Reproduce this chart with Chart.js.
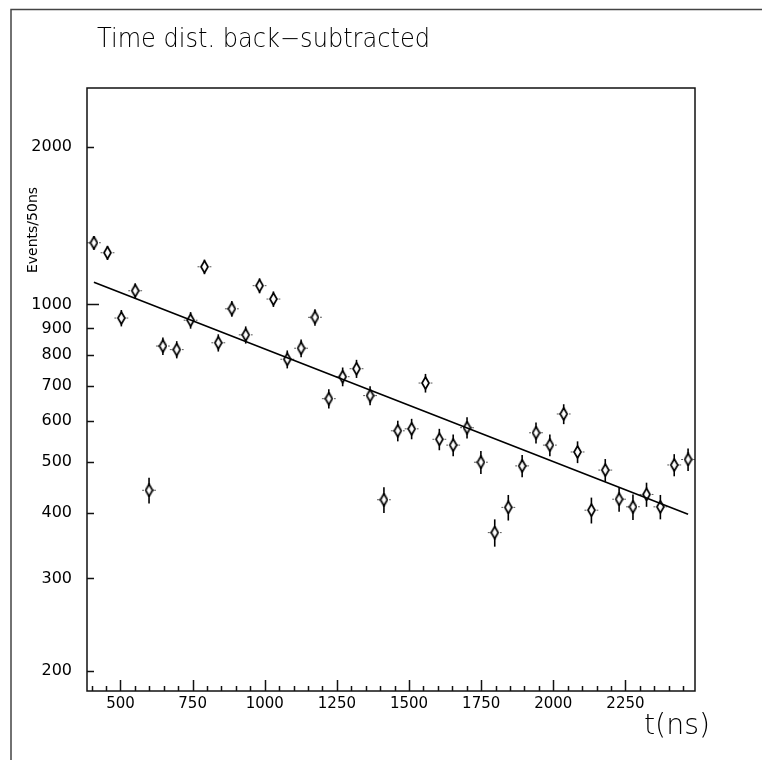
<!DOCTYPE html>
<html>
<head>
<meta charset="utf-8">
<script src="https://cdn.jsdelivr.net/npm/chart.js@4.4.0/dist/chart.umd.min.js"></script>
<style>
html, body { margin: 0; padding: 0; background: #fff; }
</style>
</head>
<body>
<canvas id="timeChart" width="762" height="760"></canvas>
<script>
// Bin centres (ns) and background-subtracted counts
const binTimes = [408, 455, 503, 551, 599, 647, 695, 743, 791, 839, 886, 934, 982, 1030, 1078,
    1126, 1174, 1222, 1270, 1318, 1365, 1413, 1461, 1509, 1557, 1605, 1653, 1701, 1749, 1797,
    1844, 1892, 1940, 1988, 2036, 2084, 2132, 2180, 2228, 2276, 2323, 2371, 2419, 2467];
const eventCounts = [1311, 1255, 942, 1062, 442, 833, 820, 933, 1180, 845, 981, 875, 1086, 1024, 786,
    825, 945, 661, 728, 754, 670, 424, 574, 579, 708, 553, 539, 582, 500, 367,
    410, 492, 569, 539, 618, 523, 405, 483, 425, 411, 434, 411, 494, 506];
const countErrors = [40, 39, 34, 36, 25, 32, 31, 34, 38, 32, 34, 33, 36, 35, 31,
    32, 34, 28, 30, 30, 28, 24, 26, 26, 29, 26, 26, 27, 25, 22,
    23, 24, 26, 26, 27, 25, 23, 24, 23, 23, 23, 22, 24, 25];

// Exponential fit (straight on the log axis), end points
const fitTimes = [408, 2467];
const fitCounts = [1102, 398];

const yTickValues = [200, 300, 400, 500, 600, 700, 800, 900, 1000, 2000];
const xTickValues = [500, 750, 1000, 1250, 1500, 1750, 2000, 2250];

Chart.defaults.font.family = '"DejaVu Sans", sans-serif';
Chart.defaults.color = '#000';

// open diamond marker
function makeDiamond() {
    const c = document.createElement('canvas');
    c.width = 9;
    c.height = 14;
    const g = c.getContext('2d');
    g.beginPath();
    g.moveTo(4.5, 1);
    g.lineTo(8, 7);
    g.lineTo(4.5, 13);
    g.lineTo(1, 7);
    g.closePath();
    g.fillStyle = '#fff';
    g.fill();
    g.lineWidth = 1.7;
    g.strokeStyle = '#000';
    g.stroke();
    return c;
}

// error bars behind the markers
const errorBars = {
    id: 'errorBars',
    beforeDatasetsDraw(chart) {
        const { ctx, scales: { x, y } } = chart;
        ctx.save();
        binTimes.forEach((t, i) => {
            const px = x.getPixelForValue(t);
            const py = y.getPixelForValue(eventCounts[i]);
            ctx.setLineDash([]);
            ctx.strokeStyle = '#000';
            ctx.lineWidth = 1.6;
            ctx.beginPath();
            ctx.moveTo(px, y.getPixelForValue(eventCounts[i] - countErrors[i]));
            ctx.lineTo(px, y.getPixelForValue(eventCounts[i] + countErrors[i]));
            ctx.stroke();
            ctx.setLineDash([2, 2]);
            ctx.strokeStyle = '#555';
            ctx.lineWidth = 1;
            ctx.beginPath();
            ctx.moveTo(x.getPixelForValue(t - 24), py);
            ctx.lineTo(x.getPixelForValue(t + 24), py);
            ctx.stroke();
        });
        ctx.restore();
    }
};

// frame, inward ticks, texts
const decorations = {
    id: 'decorations',
    afterDraw(chart) {
        const { ctx, chartArea: a, scales: { x, y } } = chart;
        ctx.save();
        ctx.strokeStyle = '#111';
        ctx.lineWidth = 1.5;
        ctx.strokeRect(a.left, a.top, a.right - a.left, a.bottom - a.top);

        ctx.beginPath();
        yTickValues.forEach(v => {
            const py = Math.round(y.getPixelForValue(v)) + 0.5;
            const len = v === 1000 ? 12 : 7;
            ctx.moveTo(a.left, py);
            ctx.lineTo(a.left + len, py);
        });
        for (let t = 400; t <= 2450; t += 50) {
            const px = Math.round(x.getPixelForValue(t)) + 0.5;
            const len = t % 250 === 0 ? 11 : 5;
            ctx.moveTo(px, a.bottom);
            ctx.lineTo(px, a.bottom - len);
        }
        ctx.stroke();

        // outer page frame (left and top only)
        ctx.strokeStyle = '#444';
        ctx.beginPath();
        ctx.moveTo(11, 760);
        ctx.lineTo(11, 9.5);
        ctx.lineTo(762, 9.5);
        ctx.stroke();

        ctx.fillStyle = '#000';
        ctx.textBaseline = 'alphabetic';
        ctx.textAlign = 'left';
        ctx.font = '200 26px "DejaVu Sans"';
        ctx.fillText('Time dist. back\u2212subtracted', 97, 47, 333);
        ctx.font = '200 29px "DejaVu Sans"';
        ctx.fillText('t(ns)', 644, 734, 66);

        ctx.translate(33, 230);
        ctx.rotate(-Math.PI / 2);
        ctx.textAlign = 'center';
        ctx.textBaseline = 'middle';
        ctx.font = '14px "DejaVu Sans"';
        ctx.fillText('Events/50ns', 0, 0);
        ctx.restore();
    }
};

const ctx = document.getElementById('timeChart').getContext('2d');
new Chart(ctx, {
    type: 'scatter',
    data: {
        datasets: [
            {
                type: 'line',
                data: fitTimes.map((t, i) => ({ x: t, y: fitCounts[i] })),
                borderColor: '#000',
                borderWidth: 1.6,
                pointRadius: 0,
                fill: false
            },
            {
                data: binTimes.map((t, i) => ({ x: t, y: eventCounts[i] })),
                pointStyle: makeDiamond(),
                pointRadius: 5,
                pointHoverRadius: 5
            }
        ]
    },
    options: {
        responsive: false,
        animation: false,
        devicePixelRatio: 1,
        layout: { padding: { left: 0, right: 67, top: 88, bottom: 0 } },
        plugins: { legend: { display: false }, tooltip: { enabled: false } },
        scales: {
            x: {
                type: 'linear',
                min: 384,
                max: 2491,
                grid: { display: false, drawTicks: false },
                border: { display: false },
                ticks: { padding: 4, font: { size: 15 }, maxRotation: 0, callback: v => String(v) },
                afterBuildTicks: s => { s.ticks = xTickValues.map(v => ({ value: v })); },
                afterFit: s => { s.height = 69; }
            },
            y: {
                type: 'logarithmic',
                min: 183,
                max: 2588,
                grid: { display: false, drawTicks: false },
                border: { display: false },
                ticks: { padding: 15, font: { size: 16 }, callback: v => String(v) },
                afterBuildTicks: s => { s.ticks = yTickValues.map(v => ({ value: v })); },
                afterFit: s => { s.width = 87; }
            }
        }
    },
    plugins: [errorBars, decorations]
});
</script>
</body>
</html>
